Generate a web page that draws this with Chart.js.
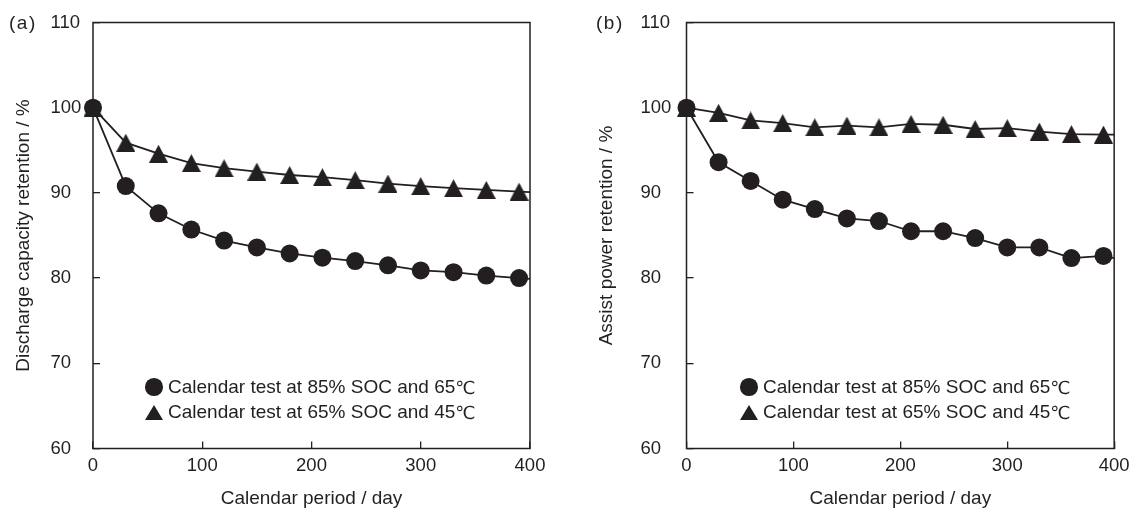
<!DOCTYPE html>
<html>
<head>
<meta charset="utf-8">
<script src="https://cdn.jsdelivr.net/npm/chart.js@4.4.1/dist/chart.umd.min.js"></script>
<style>
  html, body { margin: 0; padding: 0; background: #fff; }
  #wrap { position: relative; width: 1143px; height: 510px; overflow: hidden;
          font-family: "Liberation Sans", Arial, sans-serif; color: #231f20; }
  .panel { position: absolute; top: 0; height: 510px; }
  #pa { left: 0; width: 572px; }
  #pb { left: 572px; width: 571px; }
  .tag { position: absolute; top: 12px; font-size: 19px; line-height: 22px; letter-spacing: 1.5px; }
  .legend { position: absolute; top: 374.5px; font-size: 19px; }
  .row { display: flex; align-items: center; height: 25px; white-space: nowrap; }
  .mk { width: 18px; height: 18px; display: flex; align-items: center; justify-content: center; margin-right: 5px; }
  .dot { width: 17.5px; height: 17.5px; border-radius: 50%; background: #231f20; }
  .tri { width: 0; height: 0; border-left: 9px solid transparent; border-right: 9px solid transparent;
         border-bottom: 15px solid #231f20; }
  .deg { font-family: "DejaVu Sans", sans-serif; font-size: 18px; }
</style>
</head>
<body>
<div id="wrap">
  <div class="panel" id="pa">
    <canvas id="chartA" width="572" height="510"></canvas>
    <div class="tag" style="left:9px;">(a)</div>
    <div class="legend" style="left:145px;">
      <div class="row"><span class="mk"><span class="dot"></span></span>Calendar test at 85% SOC and 65<span class="deg">℃</span></div>
      <div class="row"><span class="mk"><span class="tri"></span></span>Calendar test at 65% SOC and 45<span class="deg">℃</span></div>
    </div>
  </div>
  <div class="panel" id="pb">
    <canvas id="chartB" width="571" height="510"></canvas>
    <div class="tag" style="left:24px;">(b)</div>
    <div class="legend" style="left:168px;">
      <div class="row"><span class="mk"><span class="dot"></span></span>Calendar test at 85% SOC and 65<span class="deg">℃</span></div>
      <div class="row"><span class="mk"><span class="tri"></span></span>Calendar test at 65% SOC and 45<span class="deg">℃</span></div>
    </div>
  </div>
</div>
<script>
// Calendar period (days); the last entry lies past the 400-day axis end and is clipped.
const days = [0, 30, 60, 90, 120, 150, 180, 210, 240, 270, 300, 330, 360, 390, 420];

// (a) Discharge capacity retention / %
const capacity85SOC65C = [100, 90.8, 87.6, 85.7, 84.4, 83.6, 82.9, 82.4, 82.0, 81.5, 80.9, 80.7, 80.3, 80.0, 79.75];
const capacity65SOC45C = [100, 95.9, 94.6, 93.5, 92.9, 92.5, 92.1, 91.85, 91.5, 91.1, 90.8, 90.55, 90.35, 90.15, 90.0];

// (b) Assist power retention / %
const power85SOC65C = [100, 93.6, 91.4, 89.2, 88.1, 87.0, 86.7, 85.5, 85.5, 84.7, 83.6, 83.6, 82.35, 82.6, 81.8];
const power65SOC45C = [100, 99.4, 98.5, 98.2, 97.7, 97.9, 97.7, 98.1, 98.0, 97.5, 97.6, 97.2, 96.9, 96.85, 96.85];

const seriesLabels = ['Calendar test at 85% SOC and 65℃', 'Calendar test at 65% SOC and 45℃'];
const xTicks = [0, 100, 200, 300, 400];
const yTicks = [60, 70, 80, 90, 100, 110];
const xTitle = 'Calendar period / day';
const yTitleA = 'Discharge capacity retention / %';
const yTitleB = 'Assist power retention / %';

const INK = '#231f20';
const FAMILY = '"Liberation Sans", Arial, sans-serif';

// Filled triangle marker, centred on its bounding box
function triangleMark(w, h) {
  const c = document.createElement('canvas');
  c.width = w; c.height = h;
  const g = c.getContext('2d');
  g.fillStyle = INK;
  g.beginPath();
  g.moveTo(w / 2, 0);
  g.lineTo(w, h);
  g.lineTo(0, h);
  g.closePath();
  g.fill();
  return c;
}
const TRI = triangleMark(19, 18);

// Box around the plotting area
const framePlugin = {
  id: 'frame',
  beforeDatasetsDraw(chart) {
    const { ctx, chartArea: a } = chart;
    ctx.save();
    ctx.strokeStyle = INK;
    ctx.lineWidth = 1.5;
    ctx.strokeRect(a.left, a.top, a.right - a.left, a.bottom - a.top);
    ctx.restore();
  }
};

function pairs(xs, ys) {
  return xs.map((x, i) => ({ x: x, y: ys[i] }));
}

function makeChart(canvasId, circleVals, triVals, yTitle, geo) {
  const tickFont = { family: FAMILY, size: 18.5 };
  const titleFont = { family: FAMILY, size: 19 };
  const gridOpts = { display: true, drawOnChartArea: false, drawTicks: true, tickLength: -7, color: INK, lineWidth: 1.3 };
  const clip = { left: 15, top: 15, right: 0, bottom: 0 };
  return new Chart(document.getElementById(canvasId), {
    type: 'line',
    data: {
      datasets: [
        {
          label: seriesLabels[0],
          data: pairs(days, circleVals),
          borderColor: INK,
          borderWidth: 1.8,
          pointStyle: 'circle',
          pointRadius: 9,
          pointBorderWidth: 0,
          pointBackgroundColor: INK,
          tension: 0,
          clip: clip
        },
        {
          label: seriesLabels[1],
          data: pairs(days, triVals),
          borderColor: INK,
          borderWidth: 1.8,
          pointStyle: TRI,
          pointRadius: 10,
          pointBackgroundColor: INK,
          tension: 0,
          clip: clip
        }
      ]
    },
    options: {
      responsive: false,
      animation: false,
      events: [],
      layout: { padding: { left: 0, top: 22.5, right: geo.right, bottom: 0 } },
      plugins: { legend: { display: false }, tooltip: { enabled: false } },
      scales: {
        x: {
          type: 'linear',
          min: xTicks[0],
          max: xTicks[xTicks.length - 1],
          afterBuildTicks: s => { s.ticks = xTicks.map(v => ({ value: v })); },
          ticks: { color: INK, font: tickFont, padding: 13.4, maxRotation: 0, autoSkip: false },
          grid: gridOpts,
          border: { display: false },
          title: { display: true, text: xTitle, color: INK, font: titleFont, padding: { top: 0, bottom: 0 } },
          afterFit: s => { s.height = 61.5; }
        },
        y: {
          type: 'linear',
          position: 'left',
          min: yTicks[0],
          max: yTicks[yTicks.length - 1],
          afterBuildTicks: s => { s.ticks = yTicks.map(v => ({ value: v })); },
          ticks: { color: INK, font: tickFont, crossAlign: 'far', autoSkip: false },
          grid: gridOpts,
          border: { display: false },
          afterFit: s => { s.width = geo.innerW; }
        },
        yTitle: {
          type: 'linear',
          position: 'left',
          weight: 10,
          display: true,
          ticks: { display: false },
          grid: { display: false },
          border: { display: false },
          title: { display: true, text: yTitle, color: INK, font: titleFont, padding: { top: geo.titlePad, bottom: 0 } },
          afterFit: s => { s.width = geo.outerW; }
        }
      }
    },
    plugins: [framePlugin]
  });
}

makeChart('chartA', capacity85SOC65C, capacity65SOC45C, yTitleA,
  { right: 42, innerW: 42.5, outerW: 50.5, titlePad: 12.6 });
makeChart('chartB', power85SOC65C, power65SOC45C, yTitleB,
  { right: 18.7, innerW: 46, outerW: 68.5, titlePad: 23.6 });
</script>
</body>
</html>
